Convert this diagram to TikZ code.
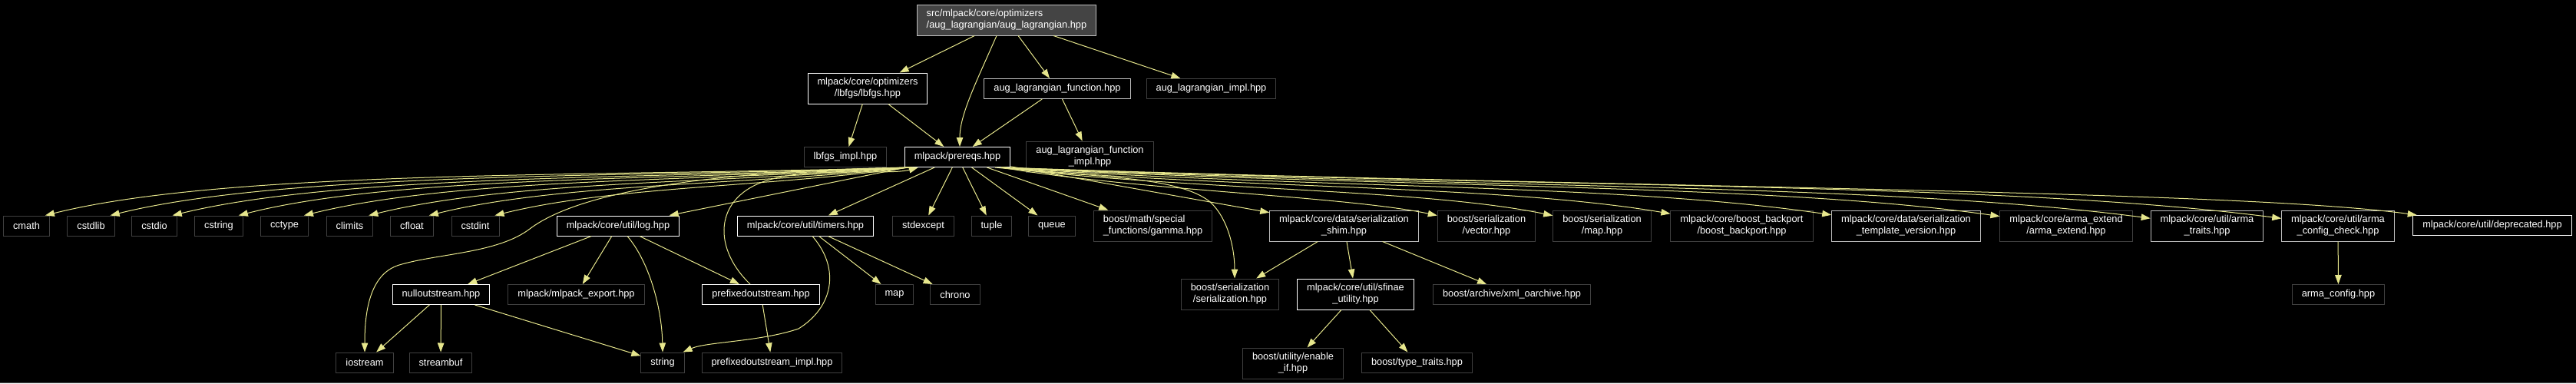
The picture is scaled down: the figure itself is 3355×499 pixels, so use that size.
\documentclass[tikz,border=0pt]{standalone}
\usepackage{fontspec}
\setmainfont{Liberation Sans}
\usetikzlibrary{arrows.meta}
\definecolor{edgeyel}{HTML}{E6E68C}
\definecolor{brdwhite}{HTML}{FFFFFF}
\definecolor{brdgray}{HTML}{BDBDBD}
\definecolor{brddark}{HTML}{404040}
\definecolor{rootfill}{HTML}{444444}
\definecolor{footgray}{HTML}{555555}

\begin{document}
\begin{tikzpicture}[x=1pt,y=-1pt,
  hfile/.style={draw=brddark,line width=1pt,fill=black,text=white,
    font=\fontsize{12.8}{15}\selectfont,inner xsep=12.5pt,inner ysep=6.5pt,
    minimum height=26pt,align=center},
  hdoc/.style={hfile,draw=brdwhite},
  hgray/.style={hfile,draw=brdgray},
  hroot/.style={hfile,draw=brdgray,fill=rootfill,align=left},
  twoline/.style={minimum height=40pt},
  incl/.style={draw=edgeyel,line width=1pt,-{Triangle[length=12pt,width=8.5pt]}}]
\fill[black] (0,0) rectangle (3355,499);
\useasboundingbox (0,0) rectangle (3355,499);
\draw[footgray,line width=1pt] (0,498.5) -- (3355,498.5);

% top levels
\node[hroot,twoline] (root) at (1311,26) {src/mlpack/core/optimizers\\/aug\_lagrangian/aug\_lagrangian.hpp};
\node[hdoc,twoline] (lbfgs) at (1130,115) {mlpack/core/optimizers\\/lbfgs/lbfgs.hpp};
\node[hgray] (augfunc) at (1377,115.5) {aug\_lagrangian\_function.hpp};
\node[hfile] (augimpl) at (1577.5,115.5) {aug\_lagrangian\_impl.hpp};
\node[hfile] (lbfgsimpl) at (1101,204.5) {lbfgs\_impl.hpp};
\node[hdoc] (prereqs) at (1247,204.5) {mlpack/prereqs.hpp};
\node[hfile,twoline] (augfuncimpl) at (1419.5,204) {aug\_lagrangian\_function\\\_impl.hpp};

% row of prereqs includes
\node[hfile] (cmath) at (34.5,294) {cmath};
\node[hfile] (cstdlib) at (118.5,294) {cstdlib};
\node[hfile] (cstdio) at (201,294) {cstdio};
\node[hfile] (cstring) at (285,294) {cstring};
\node[hfile] (cctype) at (370.5,294) {cctype};
\node[hfile] (climits) at (455.5,294) {climits};
\node[hfile] (cfloat) at (536.5,294) {cfloat};
\node[hfile] (cstdint) at (619,294) {cstdint};
\node[hdoc] (log) at (805,294) {mlpack/core/util/log.hpp};
\node[hdoc] (timers) at (1049,294) {mlpack/core/util/timers.hpp};
\node[hfile] (stdexcept) at (1202.5,294) {stdexcept};
\node[hfile] (tuple) at (1291.5,294) {tuple};
\node[hfile] (queue) at (1370,294) {queue};
\node[hfile,twoline,align=left] (gamma) at (1501.5,294) {boost/math/special\\\_functions/gamma.hpp};
\node[hgray,twoline] (shim) at (1750.5,294) {mlpack/core/data/serialization\\\_shim.hpp};
\node[hfile,twoline] (servector) at (1936,294) {boost/serialization\\/vector.hpp};
\node[hfile,twoline] (sermap) at (2086.5,294) {boost/serialization\\/map.hpp};
\node[hfile,twoline] (backport) at (2268.5,294) {mlpack/core/boost\_backport\\/boost\_backport.hpp};
\node[hgray,twoline] (tplversion) at (2482.5,294) {mlpack/core/data/serialization\\\_template\_version.hpp};
\node[hfile,twoline] (armaextend) at (2691,294) {mlpack/core/arma\_extend\\/arma\_extend.hpp};
\node[hgray,twoline] (armatraits) at (2874.5,294) {mlpack/core/util/arma\\\_traits.hpp};
\node[hgray,twoline] (armacfgcheck) at (3045,294) {mlpack/core/util/arma\\\_config\_check.hpp};
\node[hdoc] (deprecated) at (3246,293.5) {mlpack/core/util/deprecated.hpp};

% third row
\node[hdoc] (nullout) at (574.5,383.5) {nulloutstream.hpp};
\node[hfile] (mlexport) at (750.5,383.5) {mlpack/mlpack\_export.hpp};
\node[hdoc] (prefixout) at (991,383.5) {prefixedoutstream.hpp};
\node[hfile] (stdmap) at (1165,383.5) {map};
\node[hfile] (chrono) at (1244,383.5) {chrono};
\node[hfile,twoline] (serial) at (1602,383) {boost/serialization\\/serialization.hpp};
\node[hdoc,twoline] (sfinae) at (1765.5,383) {mlpack/core/util/sfinae\\\_utility.hpp};
\node[hfile] (xmlarch) at (1969,383.5) {boost/archive/xml\_oarchive.hpp};
\node[hfile] (armacfg) at (3045.5,383.5) {arma\_config.hpp};

% bottom row
\node[hfile] (iostream) at (475,472) {iostream};
\node[hfile] (streambuf) at (574,472) {streambuf};
\node[hfile] (string) at (863,472) {string};
\node[hfile] (prefiximpl) at (1005.5,472) {prefixedoutstream\_impl.hpp};
\node[hfile,twoline] (enableif) at (1684,473) {boost/utility/enable\\\_if.hpp};
\node[hfile] (typetraits) at (1845.5,472) {boost/type\_traits.hpp};

% edges from the root
\draw[incl] (root) -- (lbfgs);
\draw[incl] ([xshift=-13pt]root.south) .. controls (1270,110) and (1250,150) .. ([xshift=3pt]prereqs.north);
\draw[incl] (root) -- (augfunc);
\draw[incl] (root) -- (augimpl);
\draw[incl] (lbfgs) -- (lbfgsimpl);
\draw[incl] (lbfgs) -- (prereqs);
\draw[incl] (augfunc) -- (prereqs);
\draw[incl] (augfunc) -- (augfuncimpl);

% prereqs to the left
\draw[incl] ([xshift=6pt]prereqs.south west) .. controls (800,230) and (300,220) .. ([xshift=-6pt]cmath.north east);
\draw[incl] ([xshift=6pt]prereqs.south west) .. controls (850,231) and (380,222) .. ([xshift=-6pt]cstdlib.north east);
\draw[incl] ([xshift=6pt]prereqs.south west) .. controls (880,233) and (450,225) .. ([xshift=-6pt]cstdio.north east);
\draw[incl] ([xshift=6pt]prereqs.south west) .. controls (900,235) and (520,227) .. ([xshift=-6pt]cstring.north east);
\draw[incl] ([xshift=6pt]prereqs.south west) .. controls (920,237) and (600,230) .. ([xshift=-6pt]cctype.north east);
\draw[incl] ([xshift=6pt]prereqs.south west) .. controls (950,239) and (670,234) .. ([xshift=-6pt]climits.north east);
\draw[incl] ([xshift=6pt]prereqs.south west) .. controls (980,241) and (730,238) .. ([xshift=-6pt]cfloat.north east);
\draw[incl] ([xshift=6pt]prereqs.south west) .. controls (1000,244) and (800,242) .. ([xshift=-6pt]cstdint.north east);
\draw[incl] ([xshift=6pt]prereqs.south west) .. controls (950,222) and (760,245) .. (690,298)
  .. controls (648,330) and (570,330) .. (520,345) .. controls (480,357) and (475,410) .. (iostream.north);
\draw[incl] (prereqs) -- (log);
\draw[incl] (prereqs) -- (timers);
\draw[incl] (prereqs) -- (stdexcept);
\draw[incl] (prereqs) -- (tuple);
\draw[incl] (prereqs) -- (queue);
\draw[incl] (prereqs) -- (gamma);
\draw[incl] (prereqs) -- (shim);
\draw[incl] ([xshift=-20pt]prereqs.south east) .. controls (1420,231) and (1530,228) .. (1575,262)
  .. controls (1600,284) and (1608,325) .. ([xshift=6pt]serial.north);

% prereqs to the right
\draw[incl] ([xshift=-12pt]prereqs.south east) .. controls (1480,248) and (1750,255) .. (servector);
\draw[incl] ([xshift=-12pt]prereqs.south east) .. controls (1530,247) and (1850,245) .. (sermap);
\draw[incl] ([xshift=-12pt]prereqs.south east) .. controls (1600,246) and (1950,240) .. (backport);
\draw[incl] ([xshift=-12pt]prereqs.south east) .. controls (1700,246) and (2100,238) .. (tplversion);
\draw[incl] ([xshift=-12pt]prereqs.south east) .. controls (1800,245) and (2300,238) .. (armaextend);
\draw[incl] ([xshift=-12pt]prereqs.south east) .. controls (1900,245) and (2450,238) .. (armatraits);
\draw[incl] ([xshift=-12pt]prereqs.south east) .. controls (2000,245) and (2600,236) .. (armacfgcheck);
\draw[incl] ([xshift=-12pt]prereqs.south east) .. controls (2050,244) and (2900,246) .. (deprecated);

% log and streams
\draw[incl] (log) -- (nullout);
\draw[incl] (log) -- (mlexport);
\draw[incl] ([xshift=12pt]log.south) .. controls (845,340) and (862,400) .. (string.north);
\draw[incl] (log) -- (prefixout);
\draw[incl] (nullout) -- (iostream);
\draw[incl] (nullout) -- (streambuf);
\draw[incl] (nullout) -- (string);
\draw[incl] (prefixout) -- (prefiximpl);
\draw[incl] ([xshift=-14pt]prefixout.north) .. controls (925,320) and (930,250) .. (1010,232)
  .. controls (1066,218) and (1160,228) .. ([xshift=18pt]prereqs.south west);

% timers
\draw[incl] (timers) -- (stdmap);
\draw[incl] (timers) -- (chrono);
\draw[incl] ([xshift=9pt]timers.south) .. controls (1095,350) and (1085,400) .. (1040,428)
  .. controls (990,445) and (920,445) .. ([xshift=-2pt]string.north east);

% serialization shim
\draw[incl] (shim) -- (serial);
\draw[incl] (shim) -- (sfinae);
\draw[incl] (shim) -- (xmlarch);
\draw[incl] (sfinae) -- (enableif);
\draw[incl] (sfinae) -- (typetraits);
\draw[incl] (armacfgcheck) -- (armacfg);
\end{tikzpicture}
\end{document}
